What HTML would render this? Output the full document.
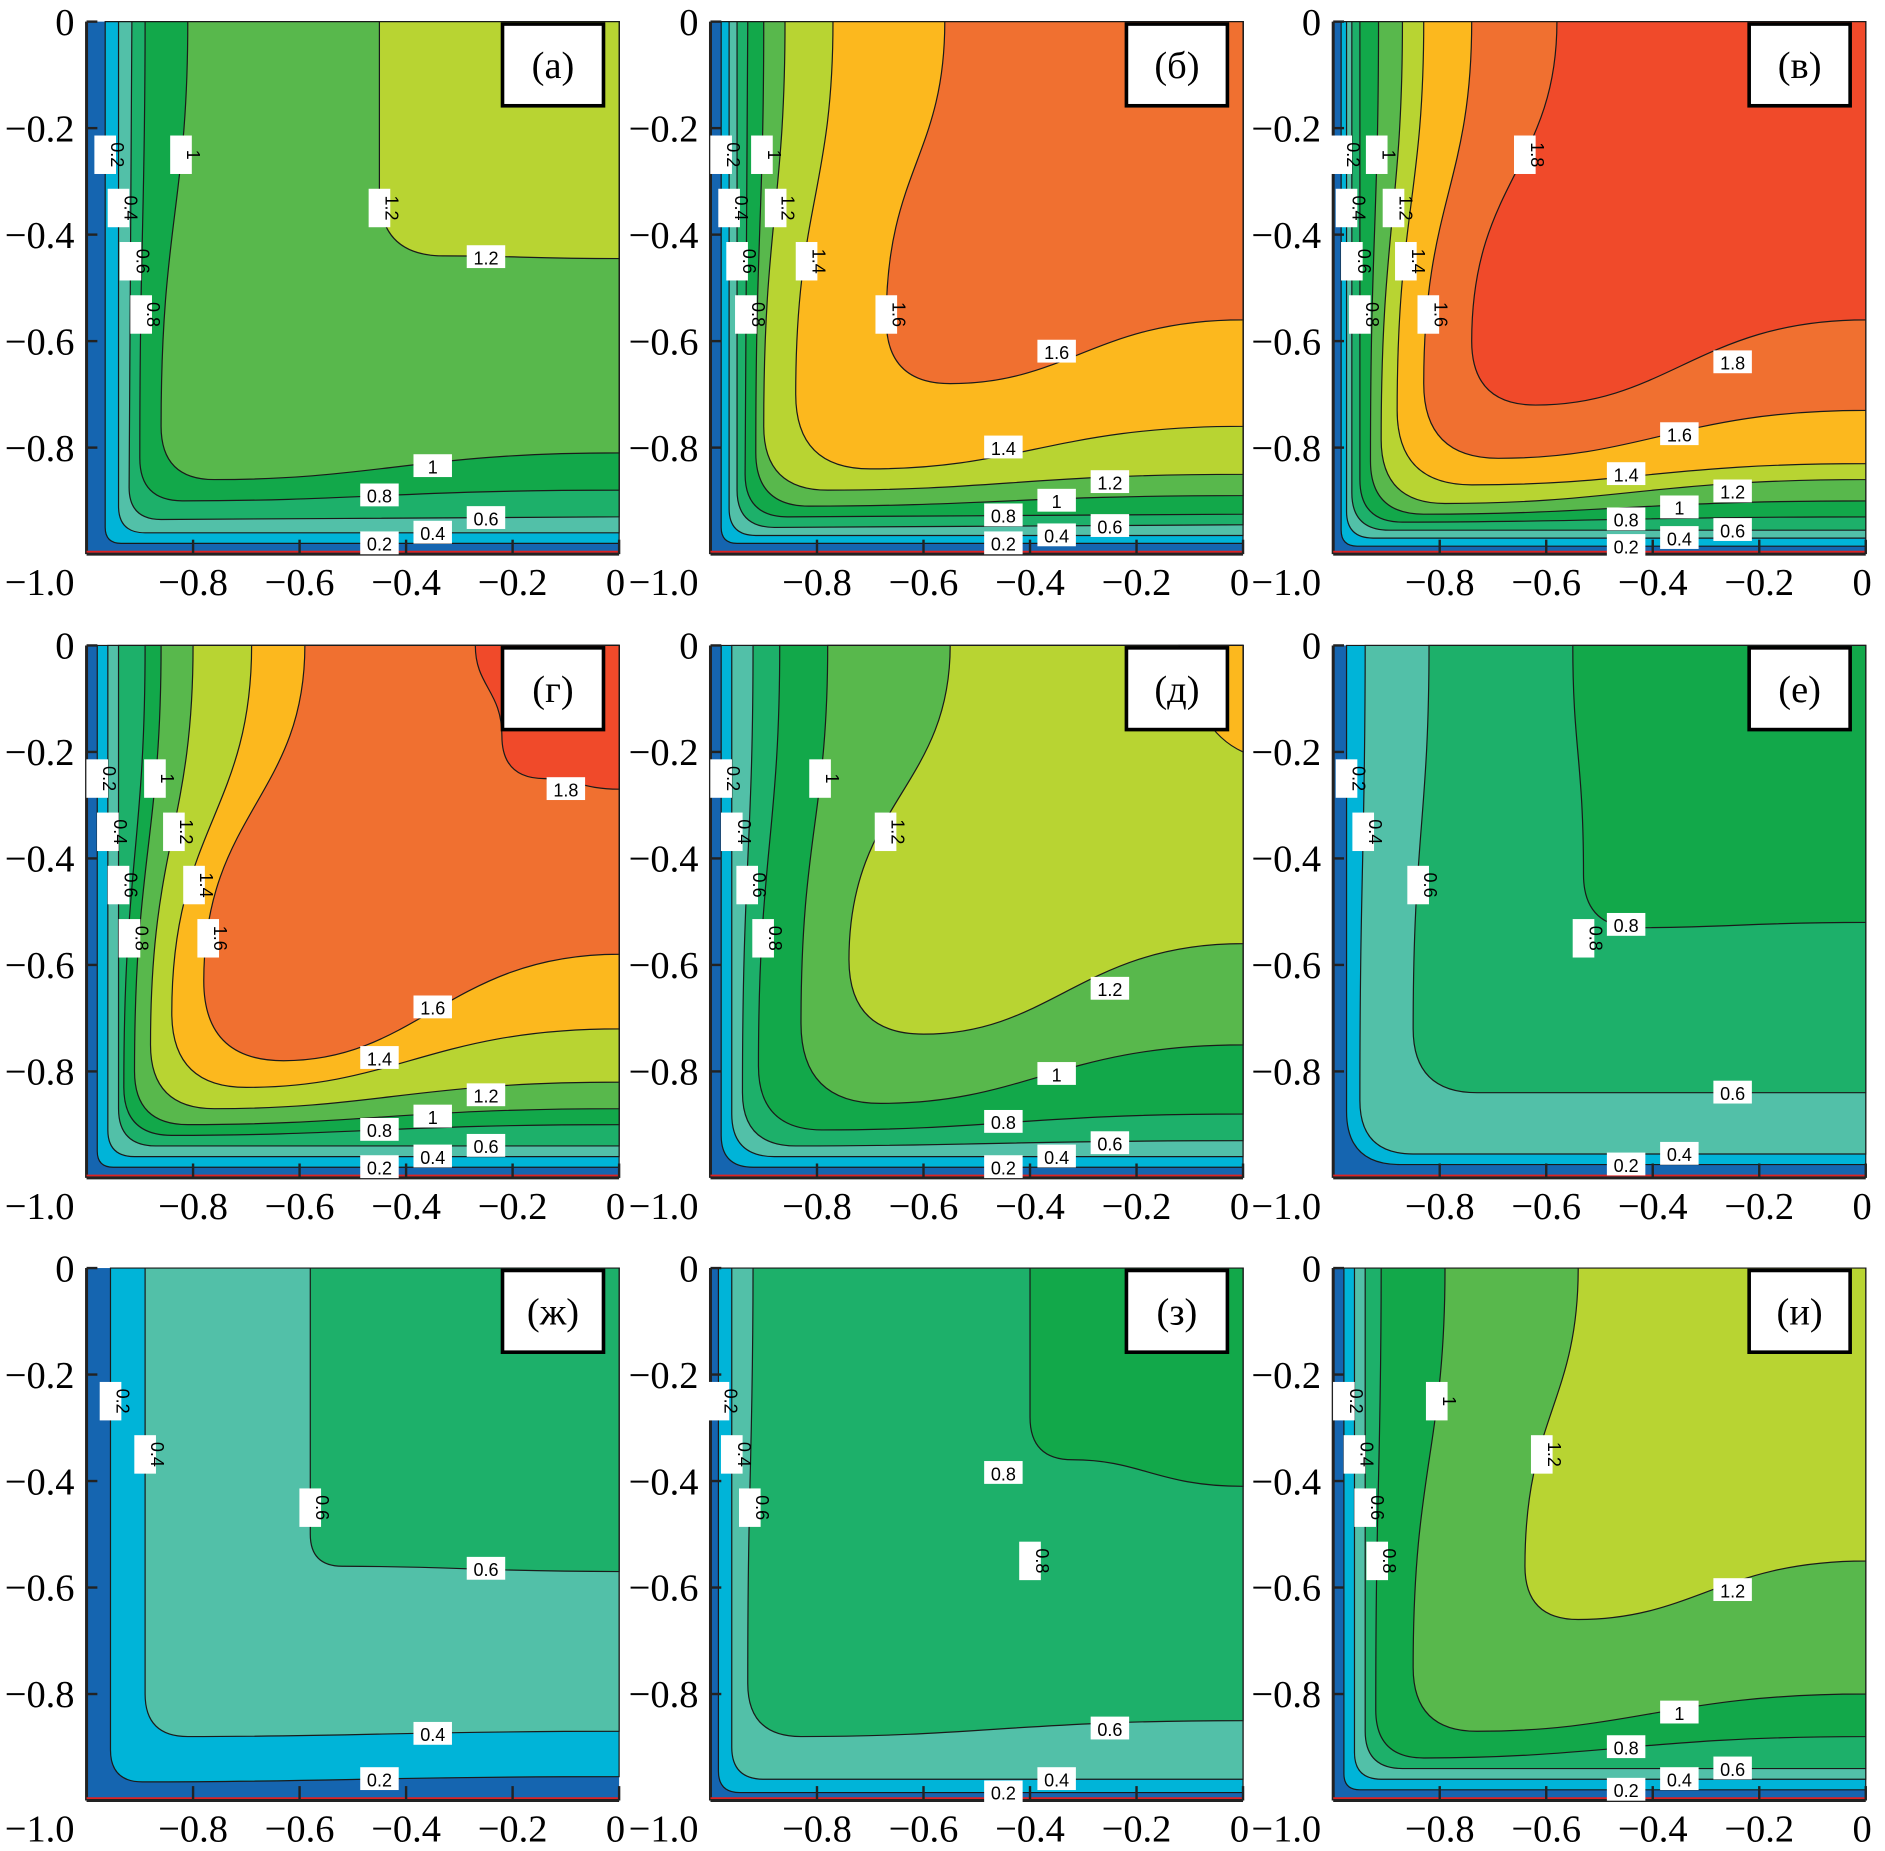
<!DOCTYPE html>
<html><head><meta charset="utf-8">
<style>
html,body{margin:0;padding:0;background:#fff;}
svg{display:block;}
.t{font-family:"Liberation Serif","Times New Roman",serif;}
.cl{font-family:"Liberation Sans",sans-serif;font-size:15px;}
</style></head>
<body>
<svg id="s" width="1885" height="1851" viewBox="0 0 1568 1540" preserveAspectRatio="none" xmlns="http://www.w3.org/2000/svg"></svg>
<script>
const C={0:'#1565b0',0.2:'#00b4d8',0.4:'#52c0a8',0.6:'#1db06a',0.8:'#12a84a',1:'#58b84c',1.2:'#b8d432',1.4:'#fcb81e',1.6:'#f07030',1.8:'#f04a2a'};
const P=[
 {x:72,y:18,l:'(а)',c:[[0.2,.035,.035,.98,.98,.03],[0.4,.06,.06,.96,.96,.05],[0.6,.085,.08,.935,.93,.06],[0.8,.11,.1,.9,.88,.08],[1,.19,.14,.86,.81,.1],[1.2,.55,.55,.44,.445,.12]]},
 {x:591,y:18,l:'(б)',c:[[0.2,.02,.02,.98,.98,.03],[0.4,.035,.035,.965,.965,.05],[0.6,.05,.05,.95,.945,.07],[0.8,.07,.065,.93,.925,.08],[1,.1,.085,.91,.89,.1],[1.2,.14,.1,.88,.85,.12],[1.4,.23,.16,.84,.76,.14],[1.6,.44,.33,.68,.56,.12]]},
 {x:1109,y:18,l:'(в)',c:[[0.2,.015,.015,.985,.985,.03],[0.4,.025,.025,.97,.97,.05],[0.6,.035,.035,.955,.955,.07],[0.8,.05,.05,.94,.93,.08],[1,.085,.07,.925,.9,.1],[1.2,.13,.09,.905,.86,.12],[1.4,.17,.12,.87,.83,.14],[1.6,.26,.17,.82,.73,.14],[1.8,.42,.26,.72,.56,.12]]},
 {x:72,y:537,l:'(г)',c:[[0.2,.02,.02,.98,.98,.03],[0.4,.04,.04,.96,.96,.05],[0.6,.06,.06,.94,.94,.07],[0.8,.11,.07,.92,.9,.09],[1,.14,.09,.9,.87,.1],[1.2,.2,.12,.87,.82,.12],[1.4,.31,.16,.83,.72,.14],[1.6,.41,.22,.78,.58,.15],[1.8,.73,.78,.25,.27,.08]]},
 {x:591,y:537,l:'(д)',c:[[0.2,.02,.02,.98,.98,.06],[0.4,.04,.04,.96,.96,.08],[0.6,.08,.06,.94,.93,.1],[0.8,.13,.09,.91,.88,.12],[1,.22,.17,.86,.75,.15],[1.2,.45,.26,.73,.56,.14],[1.4,.88,.88,.01,.2,.0]]},
 {x:1109,y:537,l:'(е)',c:[[0.2,.025,.025,.975,.975,.1],[0.4,.06,.05,.955,.955,.1],[0.6,.18,.15,.84,.84,.12],[0.8,.45,.47,.53,.52,.1]]},
 {x:72,y:1055,l:'(ж)',c:[[0.2,.045,.045,.965,.955,.06],[0.4,.11,.11,.88,.87,.08],[0.6,.42,.42,.56,.57,.06]]},
 {x:591,y:1055,l:'(з)',c:[[0.2,.015,.015,.985,.985,.04],[0.4,.04,.04,.96,.96,.06],[0.6,.08,.07,.88,.85,.1],[0.8,.6,.6,.36,.41,.08]]},
 {x:1109,y:1055,l:'(и)',c:[[0.2,.02,.02,.98,.98,.03],[0.4,.04,.04,.96,.96,.05],[0.6,.06,.06,.94,.94,.07],[0.8,.09,.08,.92,.88,.09],[1,.21,.15,.87,.8,.12],[1.2,.46,.36,.66,.55,.1]]}
];
const W=443,H=443;
let o='';
const ticksY=['0','\u22120.2','\u22120.4','\u22120.6','\u22120.8'];
const ticksX=['\u22120.8','\u22120.6','\u22120.4','\u22120.2','0'];
P.forEach(p=>{
 const X=u=>(p.x+u*W).toFixed(1), Y=v=>(p.y+v*H).toFixed(1);
 o+=`<rect x="${p.x}" y="${p.y}" width="${W}" height="${H}" fill="${C[0]}"/>`;
 p.c.forEach(c=>{
  const [lv,xt,xm,yb,yr,r]=c;
  let d;
  if(r<=0){d=`M${X(xt)},${Y(0)} Q${X(xm+.03)},${Y(yr*0.8)} ${X(1)},${Y(yr)} L${X(1)},${Y(0)} Z`;}
  else{const h=yb-r;d=`M${X(xt)},${Y(0)} C${X(xt)},${Y(h*0.45)} ${X(xm)},${Y(h*0.5)} ${X(xm)},${Y(h)} Q${X(xm)},${Y(yb)} ${X(xm+r)},${Y(yb)} C${X(xm+r+(1-xm-r)*0.4)},${Y(yb)} ${X(xm+r+(1-xm-r)*0.5)},${Y(yr)} ${X(1)},${Y(yr)} L${X(1)},${Y(0)} Z`;}
  o+=`<path d="${d}" fill="${C[lv]}" stroke="#1a1a1a" stroke-width="1"/>`;
 });
 o+=`<line x1="${p.x}" y1="${p.y}" x2="${p.x}" y2="${p.y+H}" stroke="#222" stroke-width="2.5"/>`;
 o+=`<line x1="${p.x}" y1="${p.y+H}" x2="${p.x+W}" y2="${p.y+H}" stroke="#222" stroke-width="2.5"/>`;
 o+=`<line x1="${p.x}" y1="${p.y+H-2}" x2="${p.x+W}" y2="${p.y+H-2}" stroke="#d22" stroke-width="1.5"/>`;
 for(let i=0;i<5;i++){
  const yy=p.y+i*H/5;
  o+=`<line x1="${p.x}" y1="${yy}" x2="${p.x+9}" y2="${yy}" stroke="#222" stroke-width="2"/>`;
  o+=`<text class="t" x="${p.x-10}" y="${yy+11}" font-size="32" text-anchor="end">${ticksY[i]}</text>`;
  const xx=p.x+(i+1)*W/5;
  o+=`<line x1="${xx}" y1="${p.y+H}" x2="${xx}" y2="${p.y+H-12}" stroke="#222" stroke-width="2"/>`;
  o+=`<text class="t" x="${i==4?xx-3:xx}" y="${p.y+H+34}" font-size="32" text-anchor="middle">${ticksX[i]}</text>`;
 }
 o+=`<text class="t" x="${p.x-10}" y="${p.y+H+34}" font-size="32" text-anchor="end">\u22121.0</text>`;
 o+=`<rect x="${p.x+W-97}" y="${p.y+2}" width="84" height="68" fill="#fff" stroke="#000" stroke-width="3"/>`;
 o+=`<text class="t" x="${p.x+W-55}" y="${p.y+47}" font-size="32" text-anchor="middle">${p.l}</text>`;
 p.c.forEach((c,k)=>{
  const [lv,xt,xm,yb,yr,r]=c;
  if(r<=0) return;
  const t=(lv==1?'1':String(lv));
  if(xm<0.7){
   const lx=p.x+(0.55+0.1*(k%3))*W, ly=p.y+((yb+yr)/2)*H;
   o+=`<rect x="${lx-16}" y="${ly-10}" width="32" height="19" fill="#fff"/><text class="cl" x="${lx}" y="${ly+6}" text-anchor="middle">${t}</text>`;
   const vv=0.25+0.1*(k%4), h=yb-r;
   const tt=Math.min(vv/h,1), vx=p.x+(xt+(xm-xt)*(3*tt*tt-2*tt*tt*tt))*W, vy=p.y+vv*H;
   o+=`<rect x="${vx-9}" y="${vy-16}" width="18" height="32" fill="#fff"/><text class="cl" x="0" y="0" transform="translate(${vx+5},${vy}) rotate(90)" text-anchor="middle">${t}</text>`;
  } else {
   const lx=p.x+0.9*W, ly=p.y+yr*H;
   o+=`<rect x="${lx-16}" y="${ly-10}" width="32" height="19" fill="#fff"/><text class="cl" x="${lx}" y="${ly+6}" text-anchor="middle">${t}</text>`;
  }
 });
});
document.getElementById('s').innerHTML=o;
</script>
</body></html>
